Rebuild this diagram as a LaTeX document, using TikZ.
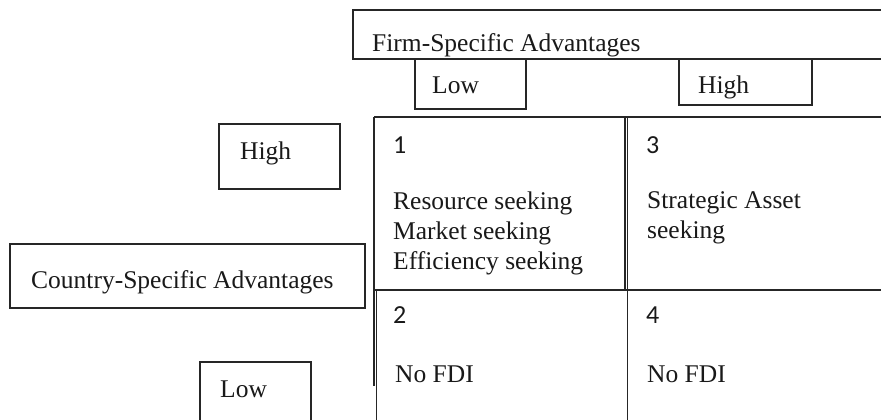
\documentclass[tikz,border=0pt]{standalone}
\usepackage{fontspec}
\setmainfont{Liberation Serif}
\newfontfamily\numfont{Carlito}
\begin{document}
\begin{tikzpicture}[x=1pt,y=-1pt,
  boxline/.style={draw=black!85,line width=1.4pt},
  lbl/.style={anchor=base west,inner sep=0pt,font=\fontsize{25.5}{30}\selectfont,text=black!90,align=left},
  num/.style={anchor=base west,inner sep=0pt,font=\numfont\fontsize{26}{30}\selectfont,text=black!90}]
\useasboundingbox (0,0) rectangle (881,420);
\clip (0,0) rectangle (881,420);
% boxes
\draw[boxline] (353,10) rectangle (890,59);
\draw[boxline] (415,59) rectangle (526,109);
\draw[boxline] (679,59) rectangle (812,105);
\draw[boxline] (219,124) rectangle (340,189);
\draw[boxline] (10,244) rectangle (365,308);
\draw[boxline] (200,362) rectangle (311,430);
% grid
\draw[boxline] (374,117) -- (890,117);
\draw[boxline] (375,290) -- (890,290);
\draw[boxline] (374,117) -- (374,290);
\draw[boxline] (374,290) -- (374,386);
\draw[boxline] (376.5,290) -- (376.5,430);
\draw[boxline] (625,117) -- (625,290);
\draw[boxline] (627.5,117) -- (627.5,430);
% texts
\node[lbl] (fsa) at (372,52) {Firm-Specific Advantages};
\node[lbl] (flow) at (432,93) {Low};
\node[lbl] (fhigh) at (698,93) {High};
\node[lbl] (chigh) at (240,159) {High};
\node[lbl] (csa) at (31,288) {Country-Specific Advantages};
\node[lbl] (clow) at (220,397) {Low};
\node[num] (n1) at (393,153) {1};
\node[num] (n3) at (646,153) {3};
\node[num] (n2) at (393,323) {2};
\node[num] (n4) at (646,323) {4};
\node[lbl] (t1) at (393,269) {Resource seeking\\Market seeking\\Efficiency seeking};
\node[lbl] (t3) at (647,238) {Strategic Asset\\seeking};
\node[lbl] (t2) at (395,382) {No FDI};
\node[lbl] (t4) at (647,382) {No FDI};
\end{tikzpicture}
\end{document}
